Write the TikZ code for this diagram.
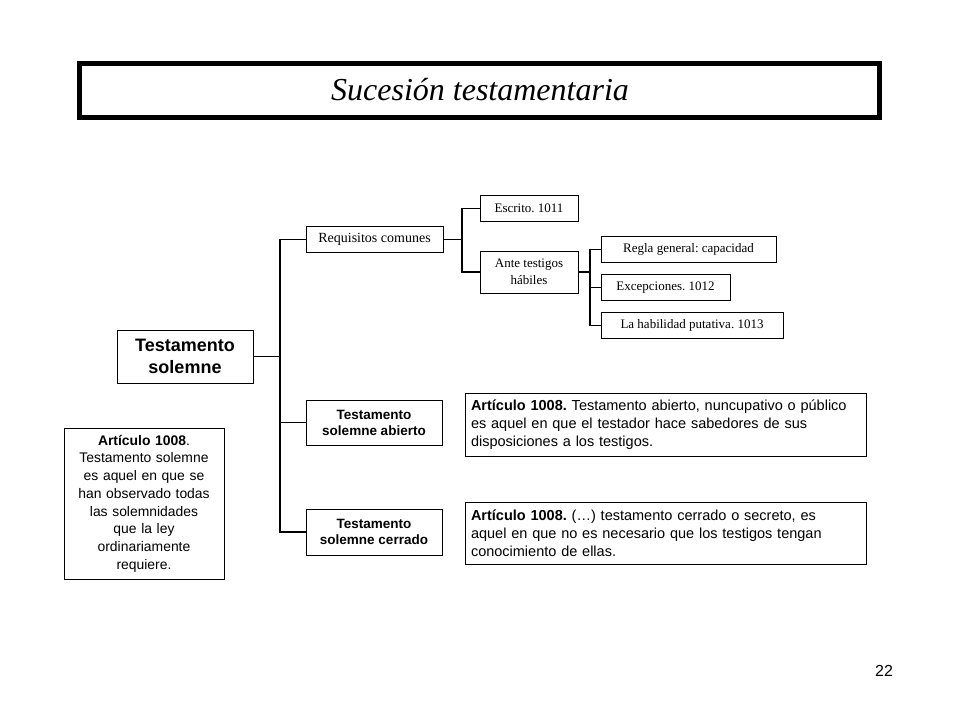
\documentclass[tikz,border=0pt]{standalone}
\usepackage{fontspec}
\setmainfont{Liberation Serif}
\setsansfont{Liberation Sans}
\usetikzlibrary{positioning}
\frenchspacing

\begin{document}
\begin{tikzpicture}[
    x=1pt, y=-1pt,
    box/.style={rectangle, draw, line width=1pt, align=center, inner sep=3pt},
    small/.style={box, font=\fontsize{13}{17}\selectfont},
    head/.style={box, font=\sffamily\bfseries\fontsize{13.5}{16}\selectfont},
    art/.style={box, inner sep=6pt, font=\sffamily\fontsize{14.5}{18}\selectfont},
    link/.style={line width=1.1pt}
]
    \useasboundingbox (0,0) rectangle (960,720);
    % titulo
    \draw[line width=5pt] (79.5,63.5) rectangle (879.5,117.5);
    \node[font=\itshape\fontsize{32}{36}\selectfont] (title) at (480,90) {Sucesión testamentaria};

    % arbol principal
    \node[box, font=\sffamily\bfseries\fontsize{18}{22}\selectfont, minimum width=136, minimum height=53] (ts) at (185,356.5) {Testamento\\solemne};
    \node[small, font=\fontsize{14}{17}\selectfont, minimum width=137, minimum height=26] (rc) at (374.5,239.5) {Requisitos comunes};
    \node[head, minimum width=136, minimum height=45] (ab) at (374,422.5) {Testamento\\solemne abierto};
    \node[head, minimum width=136, minimum height=46] (ce) at (374,532) {Testamento\\solemne cerrado};

    \node[small, minimum width=98, minimum height=26] (esc) at (529,208.5) {Escrito. 1011};
    \node[small, minimum width=98, minimum height=42] (tes) at (529,272) {Ante testigos\\hábiles};
    \node[small, minimum width=175, minimum height=26] (reg) at (688.5,249.5) {Regla general: capacidad};
    \node[small, minimum width=129, minimum height=26] (exc) at (665.5,287.5) {Excepciones. 1012};
    \node[small, minimum width=182, minimum height=26] (hab) at (692,325.5) {La habilidad putativa. 1013};

    % articulos
    \node[art, inner sep=3pt, font=\sffamily\fontsize{13.9}{17.7}\selectfont, text width=154, minimum height=151] (a1) at (144,503.5) {\textbf{Artículo 1008}.\\Testamento solemne\\es aquel en que se\\han observado todas\\las solemnidades\\que la ley\\ordinariamente\\requiere.};
    \node[art, align=left, text width=389, minimum height=63] (a2) at (665.5,424.5) {\textbf{Artículo 1008.} Testamento abierto, nuncupativo o público\\es aquel en que el testador hace sabedores de sus\\disposiciones a los testigos.};
    \node[art, align=left, text width=389, minimum height=62] (a3) at (665.5,533) {\textbf{Artículo 1008.} (…) testamento cerrado o secreto, es\\aquel en que no es necesario que los testigos tengan\\conocimiento de ellas.};

    \node[font=\sffamily\fontsize{16}{18}\selectfont] (pag) at (884,671) {22};

    % conectores
    \coordinate (t1) at (280,356.5);
    \coordinate (t2) at (462,239.5);
    \coordinate (t3) at (590,272);
    \draw[link, line width=1.6pt] (ts) -- (t1);
    \draw[link] (rc.west) -- (rc.west -| t1) -- (ce.west -| t1) -- (ce.west);
    \draw[link] (ab.west -| t1) -- (ab.west);
    \draw[link, line width=1.6pt] (rc) -- (t2);
    \draw[link] (esc.west) -- (esc.west -| t2) -- (tes.west -| t2) -- (tes.west);
    \draw[link] (tes) -- (t3);
    \draw[link] (reg.west) -- (reg.west -| t3) -- (hab.west -| t3) -- (hab.west);
    \draw[link] (exc.west -| t3) -- (exc.west);
\end{tikzpicture}
\end{document}
